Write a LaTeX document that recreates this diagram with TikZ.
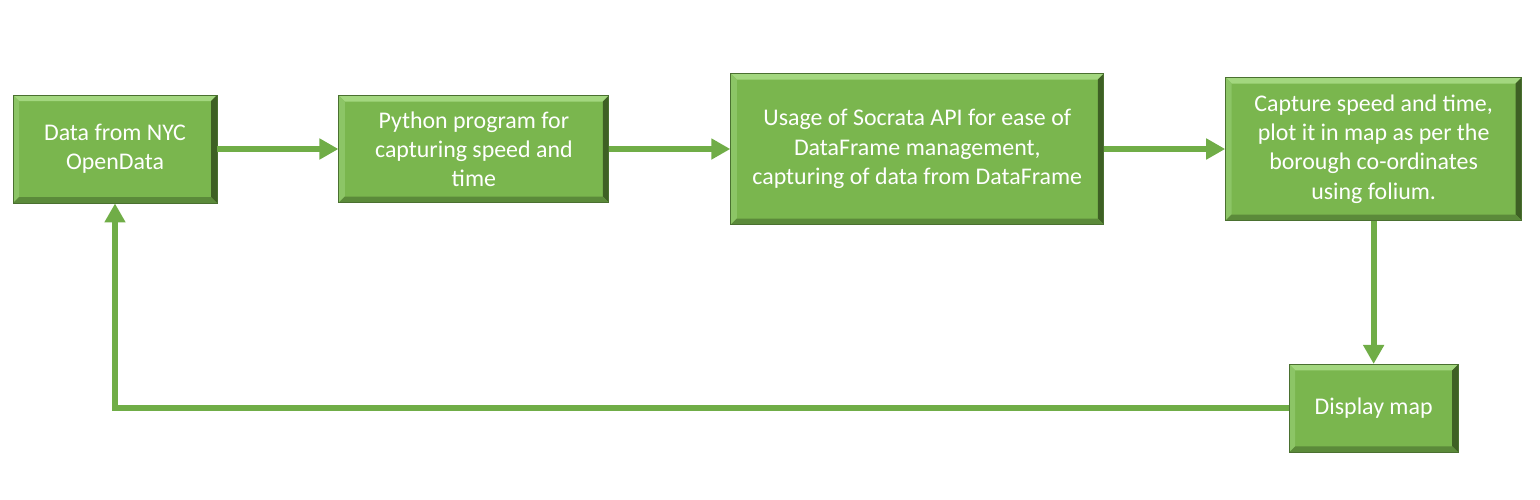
\documentclass[tikz,border=0pt]{standalone}
\usepackage{fontspec}
\setmainfont{Carlito}
\usepackage{tikz}
\usetikzlibrary{arrows.meta, positioning, calc}

\definecolor{boxgreen}{HTML}{7AB64E}
\definecolor{bevtop}{HTML}{A3D77F}
\definecolor{bevleft}{HTML}{8CC566}
\definecolor{bevright}{HTML}{3E6024}
\definecolor{bevbottom}{HTML}{5B8A3A}
\definecolor{boxedge}{HTML}{4A7030}
\definecolor{arrowgreen}{HTML}{70AD47}

% bevelled edges of a box
\newcommand{\bevelbox}{%
  \fill[bevtop] (path picture bounding box.north west) -- (path picture bounding box.north east) -- ([shift={(-0.12,-0.12)}]path picture bounding box.north east) -- ([shift={(0.12,-0.12)}]path picture bounding box.north west) -- cycle;
  \fill[bevleft] (path picture bounding box.north west) -- (path picture bounding box.south west) -- ([shift={(0.12,0.12)}]path picture bounding box.south west) -- ([shift={(0.12,-0.12)}]path picture bounding box.north west) -- cycle;
  \fill[bevright] (path picture bounding box.north east) -- (path picture bounding box.south east) -- ([shift={(-0.12,0.12)}]path picture bounding box.south east) -- ([shift={(-0.12,-0.12)}]path picture bounding box.north east) -- cycle;
  \fill[bevbottom] (path picture bounding box.south west) -- (path picture bounding box.south east) -- ([shift={(-0.12,0.12)}]path picture bounding box.south east) -- ([shift={(0.12,0.12)}]path picture bounding box.south west) -- cycle;
}

\begin{document}
\begin{tikzpicture}[
    node distance=2.42cm,
    % Styles
    greenbox/.style={rectangle, fill=boxgreen, draw=boxedge, line width=0.5pt, text=white, inner sep=0pt, align=center, font=\fontsize{13.6}{16.6}\selectfont, path picture={\bevelbox}},
    arrowstyle/.style={-{Triangle[length=0.38cm, width=0.40cm]}, line width=3.3pt, color=arrowgreen},
]

\useasboundingbox (0,0) rectangle (30.8,-9.98);

% === TOP ROW ===
\node[greenbox, minimum width=4.08cm, minimum height=2.16cm] (nycdata) at (2.30,-2.98) {Data from NYC\\OpenData};
\node[greenbox, right=of nycdata, minimum width=5.40cm, minimum height=2.14cm] (python) {Python program for\\capturing speed and\\time};
\node[greenbox, right=of python, minimum width=7.46cm, minimum height=3.02cm] (socrata) {Usage of Socrata API for ease of\\DataFrame management,\\capturing of data from DataFrame};
\node[greenbox, right=of socrata, minimum width=5.92cm, minimum height=2.86cm] (folium) {Capture speed and time,\\plot it in map as per the\\borough co-ordinates\\using folium.};

% === DISPLAY ===
\node[greenbox, below=2.86cm of folium, minimum width=3.38cm, minimum height=1.76cm] (display) {Display map};

% === ARROWS ===
\draw[arrowstyle] (nycdata) -- (python);
\draw[arrowstyle] (python) -- (socrata);
\draw[arrowstyle] (socrata) -- (folium);
\draw[arrowstyle] (folium) -- (display);
\draw[arrowstyle] (display.west) -| (nycdata.south);

\end{tikzpicture}
\end{document}
